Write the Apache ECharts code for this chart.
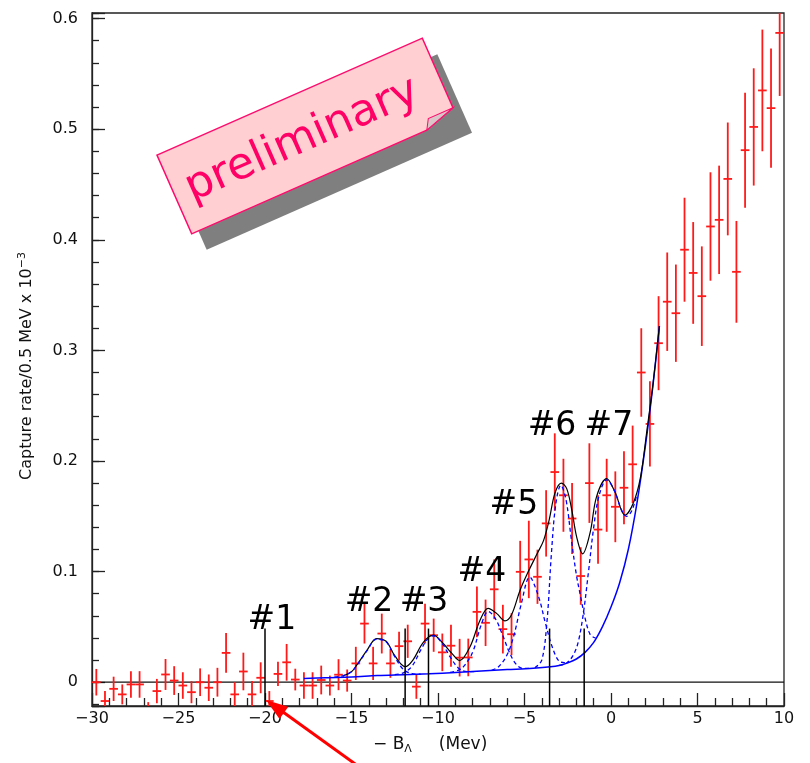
<!DOCTYPE html>
<html>
<head>
<meta charset="utf-8">
<script src="https://cdn.jsdelivr.net/npm/echarts@6/dist/echarts.min.js"></script>
<style>
  html, body { margin: 0; padding: 0; background: #fff; }
  #chart { width: 810px; height: 763px; }
</style>
</head>
<body>
<div id="chart"></div>
<script>
// Binding energy bins (MeV, bin centres, 0.5 MeV wide)
const binCenters = [
  -29.75, -29.25, -28.75, -28.25, -27.75, -27.25, -26.75, -26.25, -25.75, -25.25,
  -24.75, -24.25, -23.75, -23.25, -22.75, -22.25, -21.75, -21.25, -20.75, -20.25,
  -19.75, -19.25, -18.75, -18.25, -17.75, -17.25, -16.75, -16.25, -15.75, -15.25,
  -14.75, -14.25, -13.75, -13.25, -12.75, -12.25, -11.75, -11.25, -10.75, -10.25,
  -9.75, -9.25, -8.75, -8.25, -7.75, -7.25, -6.75, -6.25, -5.75, -5.25,
  -4.75, -4.25, -3.75, -3.25, -2.75, -2.25, -1.75, -1.25, -0.75, -0.25,
  0.25, 0.75, 1.25, 1.75, 2.25, 2.75, 3.25, 3.75, 4.25, 4.75,
  5.25, 5.75, 6.25, 6.75, 7.25, 7.75, 8.25, 8.75, 9.25, 9.75
];
const binHalfWidth = 0.25;

// Capture rate per bin (x 10^-3)
const captureRates = [
  0.000, -0.017, -0.006, -0.011, -0.002, -0.002, -0.028, -0.008, 0.007, 0.0015,
  -0.003, -0.009, 0.000, -0.005, 0.000, 0.0265, -0.011, 0.0097, -0.011, 0.004,
  -0.017, 0.0075, 0.018, 0.0024, -0.003, -0.003, 0.002, -0.003, 0.0068, 0.0015,
  0.017, 0.053, 0.017, 0.044, 0.017, 0.0326, 0.037, -0.004, 0.053, 0.0425,
  0.027, 0.033, 0.0222, 0.0224, 0.0636, 0.0537, 0.084, 0.048, 0.0434, 0.0998,
  0.111, 0.0953, 0.1436, 0.190, 0.169, 0.148, 0.096, 0.180, 0.138, 0.169,
  0.1586, 0.1758, 0.197, 0.280, 0.2335, 0.3065, 0.344, 0.3336, 0.391, 0.370,
  0.349, 0.412, 0.418, 0.455, 0.371, 0.481, 0.502, 0.535, 0.519, 0.587
];

// Statistical errors per bin
const rateErrors = [
  0.012, 0.009, 0.011, 0.009, 0.012, 0.012, 0.010, 0.011, 0.014, 0.013,
  0.012, 0.010, 0.0125, 0.012, 0.013, 0.018, 0.011, 0.017, 0.012, 0.014,
  0.009, 0.011, 0.0166, 0.0098, 0.012, 0.012, 0.013, 0.009, 0.014, 0.010,
  0.015, 0.018, 0.015, 0.018, 0.013, 0.013, 0.015, 0.011, 0.018, 0.015,
  0.017, 0.019, 0.017, 0.017, 0.023, 0.021, 0.027, 0.022, 0.019, 0.028,
  0.035, 0.0245, 0.030, 0.035, 0.033, 0.032, 0.026, 0.036, 0.031, 0.033,
  0.032, 0.033, 0.035, 0.040, 0.0385, 0.0425, 0.0445, 0.044, 0.047, 0.046,
  0.045, 0.049, 0.049, 0.051, 0.046, 0.052, 0.053, 0.055, 0.054, 0.057
];

// Fitted background (quasi-free continuum)
const backgroundFit = [
  [-17.75, 0.0033], [-16.5, 0.004], [-15, 0.0047], [-13.5, 0.006], [-12, 0.0068],
  [-10.5, 0.0076], [-9, 0.0088], [-7.5, 0.0101], [-6, 0.0114], [-4.5, 0.0127],
  [-3.5, 0.014], [-3, 0.0152], [-2.5, 0.0175], [-2, 0.021], [-1.5, 0.027],
  [-1, 0.036], [-0.5, 0.05], [0, 0.068], [0.5, 0.09], [1, 0.12],
  [1.5, 0.162], [2, 0.215], [2.4, 0.265], [2.8, 0.322]
];

// Total fit (background + peaks)
const totalFit = [
  [-15.5, 0.0055], [-15.0, 0.0095], [-14.7, 0.0154], [-14.1, 0.029], [-13.55, 0.0395],
  [-13.0, 0.037], [-12.5, 0.024], [-11.9, 0.014], [-11.45, 0.02], [-10.85, 0.036],
  [-10.27, 0.0425], [-9.7, 0.035], [-9.2, 0.026], [-8.75, 0.0195], [-8.15, 0.032],
  [-7.57, 0.056], [-7.1, 0.0667], [-6.6, 0.062], [-6.13, 0.0555], [-5.75, 0.061],
  [-5.26, 0.083], [-4.78, 0.10], [-4.26, 0.1165], [-3.9, 0.128], [-3.57, 0.147],
  [-3.24, 0.171], [-2.87, 0.18], [-2.56, 0.175], [-2.27, 0.156], [-1.98, 0.131],
  [-1.64, 0.116], [-1.21, 0.135], [-0.83, 0.168], [-0.25, 0.184], [0.23, 0.172],
  [0.81, 0.151], [1.29, 0.162], [1.7, 0.185], [2.08, 0.228], [2.43, 0.27], [2.8, 0.322]
];

// Individual peak components (each on top of the background)
const peak2 = [
  [-16.0, 0.0045], [-15.5, 0.0058], [-15.0, 0.0095], [-14.7, 0.0152], [-14.1, 0.0285],
  [-13.55, 0.039], [-13.0, 0.0365], [-12.5, 0.023], [-12.0, 0.0115], [-11.5, 0.0078], [-11.0, 0.0072]
];
const peak3 = [
  [-12.5, 0.0068], [-12.0, 0.0085], [-11.5, 0.0145], [-11.0, 0.029], [-10.6, 0.039],
  [-10.27, 0.042], [-9.8, 0.036], [-9.3, 0.023], [-8.8, 0.0125], [-8.3, 0.0095], [-7.8, 0.0095]
];
const peak4 = [
  [-9.3, 0.0088], [-8.8, 0.011], [-8.5, 0.0145], [-8.0, 0.027], [-7.5, 0.052], [-7.1, 0.064],
  [-6.7, 0.058], [-6.3, 0.044], [-5.9, 0.028], [-5.5, 0.0165], [-5.1, 0.0125], [-4.7, 0.0125]
];
const peak5 = [
  [-6.9, 0.0108], [-6.5, 0.014], [-6.0, 0.025], [-5.6, 0.043], [-5.2, 0.07], [-4.7, 0.095],
  [-4.2, 0.078], [-3.8, 0.054], [-3.4, 0.032], [-3.0, 0.019], [-2.6, 0.0175]
];
const peak6 = [
  [-4.4, 0.013], [-4.0, 0.02], [-3.7, 0.055], [-3.45, 0.115], [-3.2, 0.16], [-2.9, 0.178],
  [-2.6, 0.165], [-2.3, 0.13], [-2.0, 0.097], [-1.75, 0.077], [-1.5, 0.058], [-1.2, 0.043], [-0.9, 0.04]
];
const peak7 = [
  [-3.0, 0.0152], [-2.6, 0.017], [-2.2, 0.024], [-1.9, 0.036], [-1.6, 0.062], [-1.3, 0.1],
  [-1.0, 0.14], [-0.7, 0.168], [-0.25, 0.183], [0.2, 0.173], [0.6, 0.156], [0.9, 0.15],
  [1.2, 0.155], [1.5, 0.17]
];

// State markers: position (MeV) and top of the marker line
const stateMarkers = [[-20, 0.0485], [-11.9, 0.0485], [-10.55, 0.0485], [-3.55, 0.0485], [-1.55, 0.0485]];

// State labels: text, x, y
const stateLabels = [
  ['#1', -19.6, 0.056], ['#2', -13.99, 0.0724], ['#3', -10.81, 0.0724], ['#4', -7.46, 0.0995],
  ['#5', -5.61, 0.160], ['#6', -3.41, 0.231], ['#7', -0.12, 0.231]
];

// Axis ranges and tick labels
const xRange = [-30, 10];
const yRange = [-0.0215, 0.605];
const xTickValues = [-30, -25, -20, -15, -10, -5, 0, 5, 10];
const xTickLabels = ['\u221230', '\u221225', '\u221220', '\u221215', '\u221210', '\u22125', '0', '5', '10'];
const yTickValues = [0, 0.1, 0.2, 0.3, 0.4, 0.5, 0.6];
const yTickLabels = ['0', '0.1', '0.2', '0.3', '0.4', '0.5', '0.6'];

const INK = '#111';
const RED = '#ff1a1a';
const BLUE = '#0000ff';
const labelFont = '"DejaVu Sans", sans-serif';

function lookupLabel(values, labels, v) {
  for (let i = 0; i < values.length; i++) {
    if (Math.abs(values[i] - v) < 1e-6) return labels[i];
  }
  return '';
}

function renderCross(params, api) {
  const x = api.value(0), y = api.value(1), e = api.value(2);
  const cs = params.coordSys;
  const top = cs.y, bottom = cs.y + cs.height;
  const clampY = v => Math.max(top, Math.min(bottom, v));
  const lo = api.coord([x, y - e]);
  const hi = api.coord([x, y + e]);
  const left = api.coord([x - binHalfWidth, y]);
  const right = api.coord([x + binHalfWidth, y]);
  const style = { stroke: RED, lineWidth: 1.8 };
  const children = [];
  const y1 = clampY(lo[1]), y2 = clampY(hi[1]);
  if (y1 - y2 > 0.5) {
    children.push({ type: 'line', shape: { x1: lo[0], y1: y1, x2: lo[0], y2: y2 }, style: style });
  }
  if (left[1] >= top && left[1] <= bottom) {
    children.push({ type: 'line', shape: { x1: left[0], y1: left[1], x2: right[0], y2: right[1] }, style: style });
  }
  return { type: 'group', children: children };
}

function renderMarker(params, api) {
  const x = api.value(0), t = api.value(1);
  const base = api.coord([x, yRange[0]]);
  const tip = api.coord([x, t]);
  return {
    type: 'line',
    shape: { x1: base[0], y1: base[1], x2: tip[0], y2: tip[1] },
    style: { stroke: '#000', lineWidth: 1.5 }
  };
}

function renderStateLabel(params, api) {
  const p = api.coord([api.value(1), api.value(2)]);
  return {
    type: 'text', x: p[0], y: p[1],
    style: {
      text: stateLabels[params.dataIndex][0],
      font: '33px "DejaVu Sans", sans-serif',
      fill: '#000', align: 'center', verticalAlign: 'middle'
    }
  };
}

const crossData = binCenters.map((x, i) => [x, captureRates[i], rateErrors[i]]);

function fitLine(data, color, width, dashed, z) {
  return {
    type: 'line', data: data, smooth: 0.35, showSymbol: false, symbol: 'none',
    lineStyle: { color: color, width: width, type: dashed ? [4, 3] : 'solid' },
    z: z, silent: true
  };
}

const chart = echarts.init(document.getElementById('chart'), null, { renderer: 'canvas' });

const stickerAngle = 23.8 * Math.PI / 180;

chart.setOption({
  animation: false,
  backgroundColor: '#fff',
  grid: {
    left: 92, right: 26, top: 13, bottom: 57,
    show: true, borderColor: '#222', borderWidth: 1.3, backgroundColor: 'transparent'
  },
  xAxis: {
    type: 'value', min: xRange[0], max: xRange[1], interval: 5,
    axisLine: { show: true, onZero: false, lineStyle: { color: '#222', width: 1.3 } },
    axisTick: { show: true, inside: true, length: 13, lineStyle: { color: '#222', width: 1.3 } },
    minorTick: { show: true, splitNumber: 5, length: 8, lineStyle: { color: '#222', width: 1.3 } },
    splitLine: { show: false }, minorSplitLine: { show: false },
    axisLabel: {
      color: INK, fontFamily: labelFont, fontSize: 16, margin: 5,
      formatter: v => lookupLabel(xTickValues, xTickLabels, v)
    }
  },
  yAxis: [
    {
      type: 'value', min: yRange[0], max: yRange[1], minInterval: 0.1, maxInterval: 0.1, splitNumber: 6,
      axisLine: { show: true, onZero: false, lineStyle: { color: '#222', width: 1.3 } },
      axisTick: { show: true, inside: true, length: 13, lineStyle: { color: '#222', width: 1.3 } },
      splitLine: { show: false },
      axisLabel: {
        color: INK, fontFamily: labelFont, fontSize: 16, margin: 14,
        formatter: v => lookupLabel(yTickValues, yTickLabels, v)
      }
    },
    {
      type: 'value', position: 'left', offset: 0,
      min: yRange[0], max: yRange[1], minInterval: 0.02, maxInterval: 0.02, splitNumber: 30,
      axisLine: { show: false, onZero: false },
      axisTick: { show: true, inside: true, length: 7, lineStyle: { color: '#222', width: 1.3 } },
      splitLine: { show: false },
      axisLabel: { show: false }
    }
  ],
  series: [
    {
      type: 'line', data: [[xRange[0], 0], [xRange[1], 0]], showSymbol: false, symbol: 'none',
      lineStyle: { color: '#111', width: 1.3 }, z: 2, silent: true
    },
    {
      type: 'custom', renderItem: renderCross, data: crossData, z: 3, silent: true,
      encode: { x: 0, y: 1 }
    },
    fitLine(backgroundFit, BLUE, 1.5, false, 4),
    fitLine(totalFit, '#000', 1.2, false, 5),
    fitLine(peak2, BLUE, 1.3, true, 6),
    fitLine(peak3, BLUE, 1.3, true, 6),
    fitLine(peak4, BLUE, 1.3, true, 6),
    fitLine(peak5, BLUE, 1.3, true, 6),
    fitLine(peak6, BLUE, 1.3, true, 6),
    fitLine(peak7, BLUE, 1.3, true, 6),
    {
      type: 'custom', renderItem: renderMarker, data: stateMarkers, z: 7, silent: true,
      encode: { x: 0, y: 1 }
    },
    {
      type: 'custom', renderItem: renderStateLabel, z: 8, silent: true,
      data: stateLabels.map(s => [s[0], s[1], s[2]]),
      dimensions: ['name', 'x', 'y'],
      encode: { x: 1, y: 2 }
    }
  ],
  graphic: [
    {
      type: 'text', x: 27, y: 366, rotation: Math.PI / 2, z: 50,
      style: {
        text: 'Capture rate/0.5 MeV x 10{sup|\u22123}',
        font: '16px "DejaVu Sans", sans-serif', fill: INK, align: 'center', verticalAlign: 'middle',
        rich: { sup: { fontSize: 11, fontFamily: '"DejaVu Sans", sans-serif', fill: INK, padding: [0, 0, 9, 0] } }
      }
    },
    {
      type: 'text', x: 373, y: 745, z: 50,
      style: {
        text: '\u2212 B{sub|\u039b}     (Mev)',
        font: '17px "DejaVu Sans", sans-serif', fill: INK, align: 'left', verticalAlign: 'middle',
        rich: { sub: { fontSize: 11, fontFamily: '"DejaVu Sans", sans-serif', fill: INK, padding: [9, 0, 0, 0] } }
      }
    },
    {
      type: 'group', x: 322, y: 152, rotation: stickerAngle, z: 100,
      children: [
        { type: 'rect', shape: { x: -145, y: -43, width: 290, height: 86 }, style: { fill: '#7f7f7f' } }
      ]
    },
    {
      type: 'group', x: 307, y: 136, rotation: stickerAngle, z: 101,
      children: [
        {
          type: 'polygon',
          shape: { points: [[-145, -43], [145, -43], [145, 33], [112, 43], [-145, 43]] },
          style: { fill: '#ffcfd1', stroke: '#ff0a6c', lineWidth: 1.5 }
        },
        {
          type: 'polygon',
          shape: { points: [[145, 33], [118, 33], [112, 43]] },
          style: { fill: '#d9c6c8', stroke: '#ff0a6c', lineWidth: 1 }
        },
        {
          type: 'text', x: -6, y: 2,
          style: {
            text: 'preliminary', font: '44px "DejaVu Sans", sans-serif', fill: '#ff0066',
            align: 'center', verticalAlign: 'middle'
          }
        }
      ]
    },
    {
      type: 'line', z: 120,
      shape: { x1: 283, y1: 712, x2: 358, y2: 766 },
      style: { stroke: '#ff0000', lineWidth: 3 }
    },
    {
      type: 'polygon', z: 120,
      shape: { points: [[266, 700], [279.5, 719], [288.3, 706.7]] },
      style: { fill: '#ff0000' }
    }
  ]
});
</script>
</body>
</html>
